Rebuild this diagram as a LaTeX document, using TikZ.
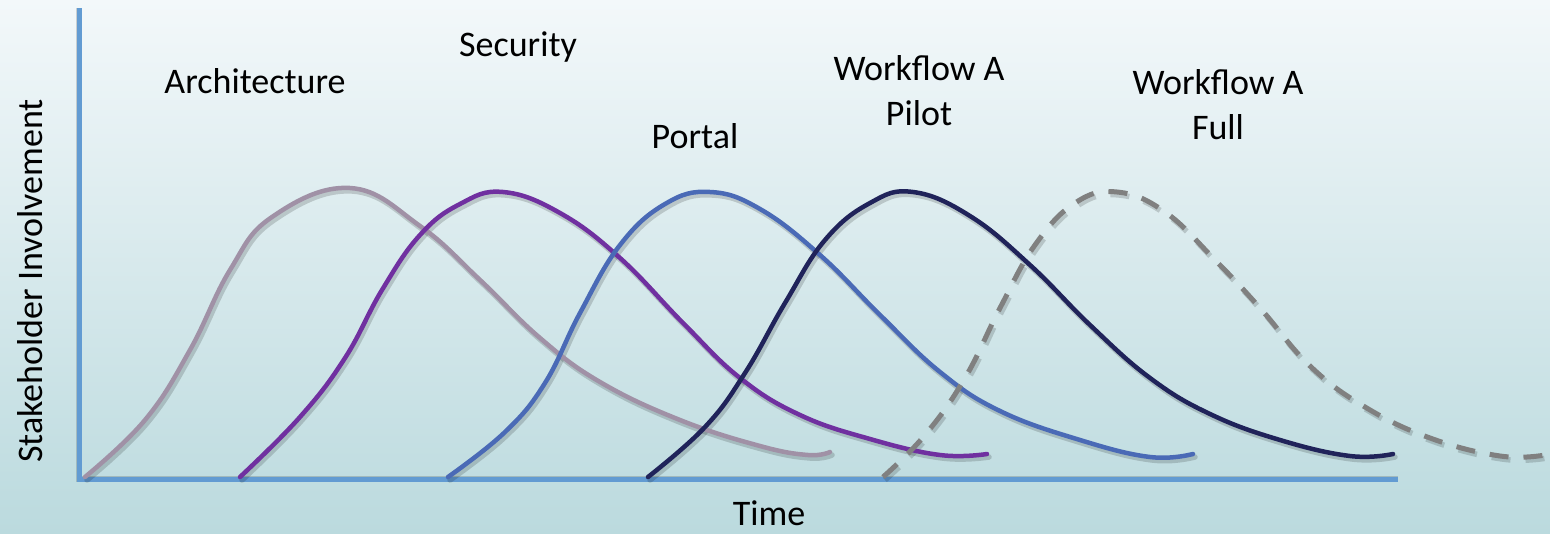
\documentclass[tikz,border=0pt]{standalone}
\usepackage{fontspec}
\setmainfont{Carlito}
\begin{document}
\definecolor{bgtop}{RGB}{243,248,250}
\definecolor{bgbot}{RGB}{187,218,222}
\definecolor{axisblue}{RGB}{98,155,210}
\definecolor{archcol}{RGB}{160,145,166}
\definecolor{seccol}{RGB}{112,48,160}
\definecolor{portcol}{RGB}{74,106,182}
\definecolor{pilotcol}{RGB}{32,35,90}
\definecolor{fullcol}{RGB}{128,128,128}
% smooth phase curves; the argument is the drawing style
\newcommand\archcurve[1]{\draw[#1] plot[smooth,tension=0.7] coordinates {(85,477) (145,420) (190,350) (230,270) (272,217) (350,188) (420,226) (480,280) (540,338) (600,382) (680,420) (760,446) (808,455) (830,452)};}
\newcommand\seccurve[1]{\draw[#1] plot[smooth,tension=0.7] coordinates {(240,477) (300,417) (345,358) (382,290) (420,235) (460,204) (503,192) (560,213) (620,258) (683,323) (740,378) (800,415) (870,439) (940,455) (987,454)};}
\newcommand\portcurve[1]{\draw[#1] plot[smooth,tension=0.7] coordinates {(448,477) (505,432) (545,383) (580,313) (620,245) (665,204) (710,192) (760,209) (820,255) (880,315) (940,372) (1000,411) (1080,440) (1150,457) (1193,454)};}
\newcommand\pilotcurve[1]{\draw[#1] plot[smooth,tension=0.7] coordinates {(648,477) (705,427) (745,373) (785,303) (825,240) (870,203) (913,192) (970,216) (1030,265) (1090,325) (1150,378) (1210,414) (1280,440) (1350,456) (1393,454)};}
\newcommand\fullcurve[1]{\draw[#1] plot[smooth,tension=0.7] coordinates {(883,477) (925,435) (965,378) (1000,308) (1035,245) (1075,203) (1117,192) (1165,212) (1215,260) (1260,308) (1310,366) (1365,407) (1430,438) (1500,456) (1545,455)};}
\begin{tikzpicture}[x=1pt,y=-1pt,
  curve/.style={line width=4.5pt,line cap=round},
  dropshadow/.style={line width=5.5pt,line cap=round,black,opacity=0.16,shift={(2,3)}},
  dashpat/.style={dash pattern=on 19pt off 15pt},
  lbl/.style={font=\fontsize{36}{45}\selectfont,align=center,text=black,inner sep=0pt}]
\useasboundingbox (0,0) rectangle (1550,533);
\shade[top color=bgtop,bottom color=bgbot] (0,0) rectangle (1550,533);

% axes
\coordinate (top) at (79,8);
\coordinate (origin) at (79,479);
\coordinate (right) at (1398,479);
\draw[line width=5.5pt,black,opacity=0.16,shift={(2,3)}] (top) -- (origin) -- (right);
\draw[line width=5pt,axisblue] (top) -- (origin) -- (right);

% shadows
\archcurve{dropshadow}
\seccurve{dropshadow}
\portcurve{dropshadow}
\pilotcurve{dropshadow}
\fullcurve{dropshadow,dashpat,line cap=butt}

% curves
\archcurve{curve,archcol}
\seccurve{curve,seccol}
\portcurve{curve,portcol}
\pilotcurve{curve,pilotcol}
\fullcurve{curve,fullcol,dashpat,line cap=butt,line width=5pt}

% labels (multi-line labels are anchored at their last line)
\node[lbl,anchor=base] (arch) at (255,93) {Architecture};
\node[lbl,anchor=base] (sec) at (518,56) {Security};
\node[lbl,anchor=base] (port) at (695,148) {Portal};
\node[lbl,anchor=base] (pilot) at (919,125) {Workflow A\\Pilot};
\node[lbl,anchor=base] (full) at (1218,139) {Workflow A\\Full};
\node[lbl,anchor=base] (time) at (769,525) {Time};
\node[lbl,anchor=base,rotate=90] (stake) at (42,281) {Stakeholder Involvement};
\end{tikzpicture}
\end{document}
